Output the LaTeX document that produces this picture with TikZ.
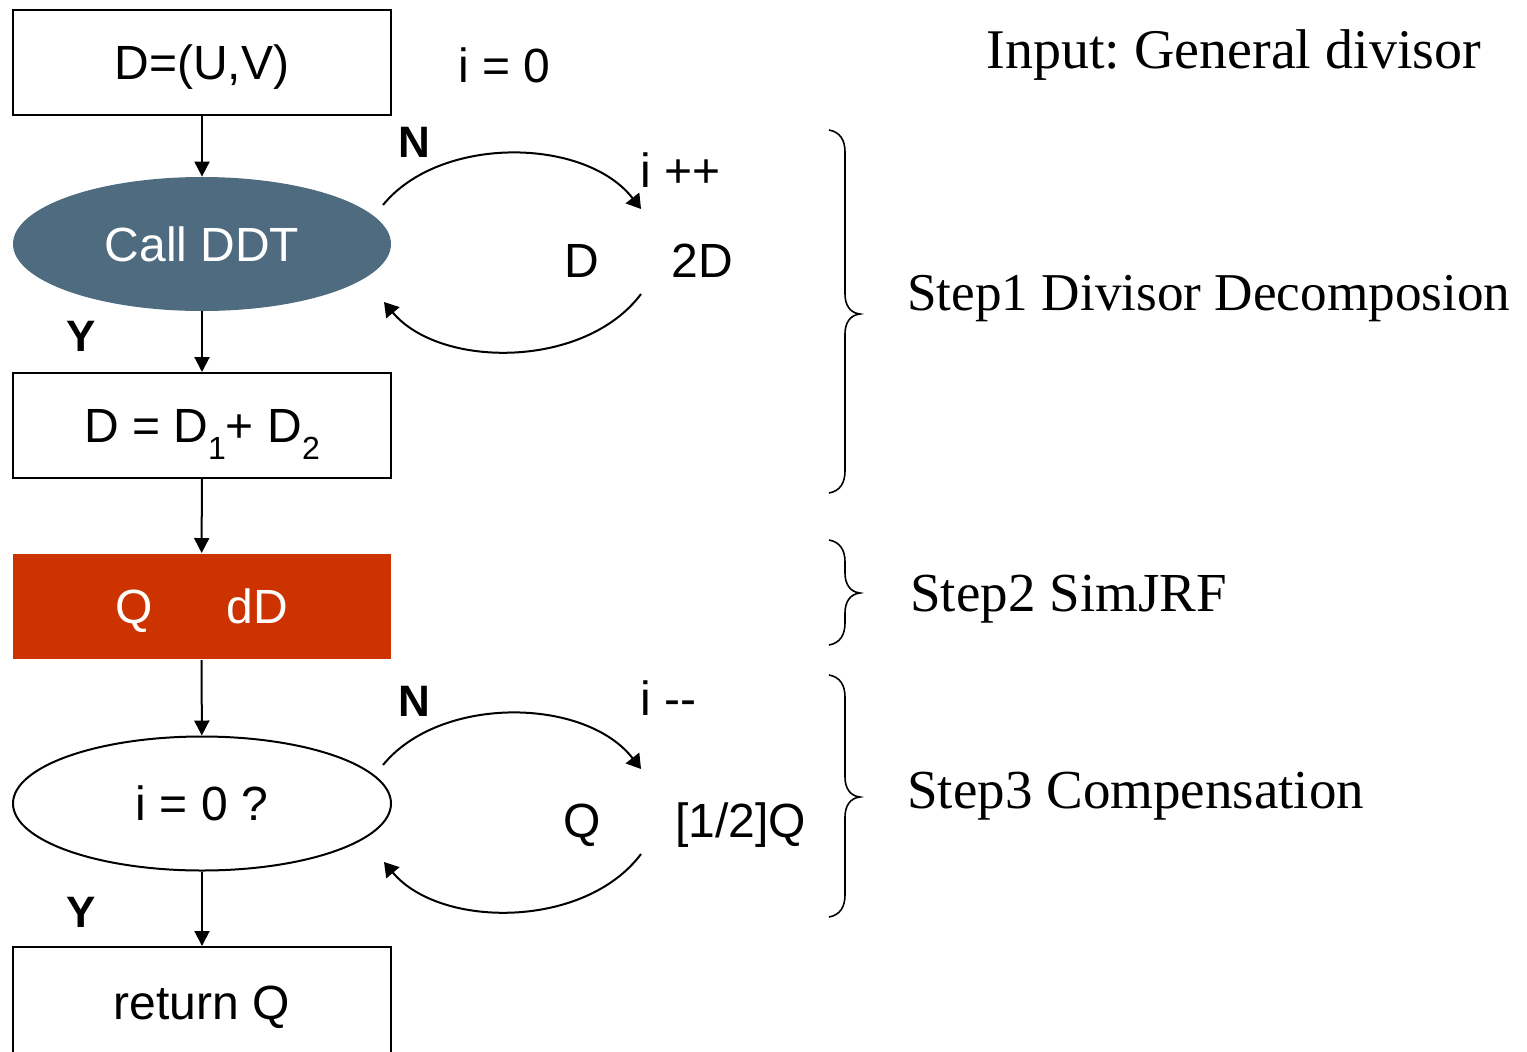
\documentclass[tikz,border=0pt]{standalone}
\usepackage{fontspec}
\setmainfont{Liberation Serif}
\setsansfont{Liberation Sans}
\usetikzlibrary{arrows.meta,shapes.geometric}
\frenchspacing

\definecolor{ddtblue}{HTML}{4E6B80}
\definecolor{jrfred}{HTML}{CC3300}

\tikzset{
  sfbig/.style={font=\sffamily\fontsize{24}{28}\selectfont},
  box/.style={draw, line width=1pt, minimum width=189pt, minimum height=52.5pt,
              inner sep=0pt, text height=17.2pt, text depth=0pt, sfbig},
  oval/.style={ellipse, minimum width=189pt, minimum height=67pt, inner sep=0pt,
              text height=17.2pt, text depth=0pt, sfbig},
  flow/.style={line width=1pt, -{Triangle[length=7.5pt,width=7.5pt]}},
  loopback/.style={line width=1pt, -{Triangle[length=7pt,width=8.5pt]}},
  txt/.style={sfbig, inner sep=0pt, anchor=base west},
  yn/.style={font=\sffamily\bfseries\fontsize{22}{26}\selectfont, inner sep=0pt, anchor=base west},
  steptxt/.style={font=\fontsize{27.5}{32}\selectfont, inner sep=0pt, anchor=base west},
  curly/.style={line width=0.8pt}
}

% curly brace: top y, tip y, bottom y
\newcommand\stepbrace[3]{%
  \draw[curly] (829,#1) .. controls (840,#1+2) and (845,#1+10) .. (845,#1+22)
    -- (845,#2-20) .. controls (845,#2-9) and (850,#2-1) .. (860,#2)
    .. controls (850,#2+1) and (845,#2+9) .. (845,#2+20)
    -- (845,#3-22) .. controls (845,#3-10) and (840,#3-2) .. (829,#3);}

\begin{document}
\begin{tikzpicture}[x=0.5pt,y=-0.5pt]
\useasboundingbox (0,0) rectangle (1527,1051);

% flow chart
\node[box] (input) at (202,62.5) {D=(U,V)};
\node[oval, fill=ddtblue, text=white] (ddt) at (202,244) {Call DDT};
\node[box] (split) at (202,425.5) {D = D\raisebox{-0.35em}{\fontsize{16}{16}\selectfont 1}+ D\raisebox{-0.35em}{\fontsize{16}{16}\selectfont 2}};
\node[box, draw=none, fill=jrfred, text=white] (jrf) at (201.5,606.5) {Q\hspace{37pt}dD};
\node[oval, draw, line width=1pt] (test) at (202,803.5) {i = 0 ?};
\node[box, minimum height=55pt] (ret) at (202,1002) {return Q};

\draw[flow] (input) -- (ddt);
\draw[flow] (ddt) -- (split);
\draw[flow] (split) -- (jrf);
\draw[flow] (jrf) -- (test);
\draw[flow] (test) -- (ret);

% side labels of the chart
\node[txt] (izero) at (458,82) {i = 0};
\node[yn] (n1) at (398,157) {N};
\node[yn] (y1) at (66,351) {Y};
\node[yn] (n2) at (398,716) {N};
\node[yn] (y2) at (66,927) {Y};

% doubling loop
\coordinate (d1s) at (383,205);
\coordinate (d1e) at (641,209);
\coordinate (d2s) at (641,294);
\coordinate (d2e) at (384,302);
\draw[loopback] (d1s) .. controls (440,135) and (585,137) .. (d1e);
\draw[loopback] (d2s) .. controls (585,369) and (440,369) .. (d2e);
\node[txt] (inc) at (640,187) {i ++};
\node[txt] (dd) at (564,277) {D};
\node[txt] (twod) at (671,277) {2D};

% halving loop
\coordinate (h1s) at (383,765);
\coordinate (h1e) at (641,769);
\coordinate (h2s) at (641,854);
\coordinate (h2e) at (384,862);
\draw[loopback] (h1s) .. controls (440,695) and (585,697) .. (h1e);
\draw[loopback] (h2s) .. controls (585,929) and (440,929) .. (h2e);
\node[txt] (dec) at (640,715) {i -{}-};
\node[txt] (qq) at (563,837) {Q};
\node[txt] (half) at (675,837) {[1/2]Q};

% step annotations
\node[steptxt, font=\fontsize{28}{32}\selectfont] (title) at (986,68) {Input: General divisor};
\stepbrace{130}{314}{493}
\node[steptxt, font=\fontsize{26.6}{32}\selectfont] (s1) at (907,310) {Step1 Divisor Decomposion};
\stepbrace{540}{593}{645}
\node[steptxt] (s2) at (910,611) {Step2 SimJRF};
\stepbrace{675}{797}{917}
\node[steptxt] (s3) at (907,808) {Step3 Compensation};
\end{tikzpicture}
\end{document}
